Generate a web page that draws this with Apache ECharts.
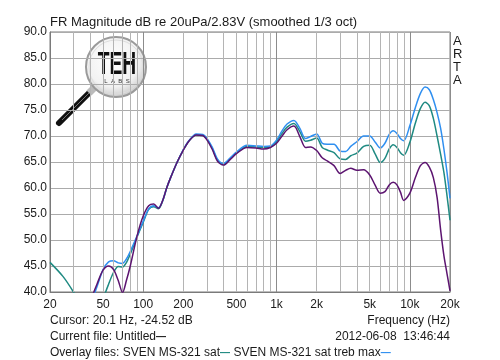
<!DOCTYPE html>
<html>
<head>
<meta charset="utf-8">
<script src="https://cdn.jsdelivr.net/npm/echarts@6/dist/echarts.min.js"></script>
<style>html,body{margin:0;padding:0;background:#fff;}#c{width:500px;height:360px;}</style>
</head>
<body>
<div id="c"></div>
<script>
const freqs = [20,25,30,35,40,45,50,55,60,65,70,75,80,90,100,110,120,130,140,150,160,180,200,220,250,280,300,330,360,400,450,500,600,700,800,900,1000,1100,1200,1350,1500,1650,1800,2000,2200,2400,2700,3000,3300,3600,4000,4500,5000,5500,6000,6500,7000,7500,8000,8500,9000,10000,11000,12000,13000,14000,15000,16000,17000,18000,19000,20000];

const currentFile = [30,31,33,35.5,38.3,41.5,44.2,45.0,44.3,42.2,
  39.9,42.3,45.0,50.8,54.6,56.6,56.9,56.1,57.6,60.0,
  61.9,65.0,67.3,69.0,70.2,70.1,69.3,67.4,65.2,64.4,
  65.5,66.6,67.8,67.7,67.5,67.8,68.6,70.0,71.2,71.9,
  69.8,67.8,67.9,67.2,65.8,65.2,64.3,62.8,63.4,63.8,
  63.4,63.5,62.5,60.5,59.0,59.3,60.6,61.1,60.6,59.2,
  57.6,59.0,62.0,64.3,64.9,64.0,62.0,58.2,52.0,47.0,
  43.5,40.2];

const svenSat = [45.7,43.0,40.0,37.0,34.5,33.5,38.5,41.5,43.8,44.9,
  44.8,45.7,47.3,50.6,53.4,55.9,56.4,56.0,57.5,60.0,
  61.9,65.0,67.3,69.0,70.2,70.1,69.4,67.6,65.4,64.5,
  65.6,66.7,68.0,67.9,67.8,67.9,68.9,70.5,71.7,72.4,
  70.8,69.0,69.2,69.6,67.8,67.3,66.8,65.6,65.5,66.2,
  66.7,68.0,68.2,66.5,64.9,65.7,67.5,68.3,67.8,66.8,
  66.3,68.8,72.5,75.3,76.5,75.8,73.4,70.0,66.5,63.0,
  58.5,53.8];

const svenSatTrebMax = [30,31,33,35,37.5,41.0,44.3,45.8,46.0,45.6,
  45.5,46.4,47.8,50.8,53.6,56.0,56.6,56.2,57.6,60.0,
  61.9,65.0,67.4,69.1,70.4,70.3,69.6,67.8,65.6,64.7,
  65.8,66.9,68.2,68.1,68.0,68.1,69.2,71.0,72.3,73.0,
  71.4,69.5,69.9,70.4,68.6,68.4,68.4,67.1,67.0,68.0,
  68.9,70.0,70.0,68.8,67.7,68.6,70.3,71.0,70.5,69.5,
  69.1,72.0,75.5,78.2,79.4,78.9,77.0,74.5,71.5,67.5,
  63.0,58.0];

const xMinorGrid = [30,40,50,60,70,80,90,200,300,400,500,600,700,800,900,2000,3000,4000,5000,6000,7000,8000,9000];
const xTickLabels = [20,50,100,200,500,1000,2000,5000,10000,20000];
const yMin = 40, yMax = 90, yStep = 5;

const FONT = '"Liberation Sans", Arial, sans-serif';
const TXT = '#1a1a1a';

function pairs(vals){ return freqs.map((f,i)=>[f, vals[i]]); }
const minorLineData = xMinorGrid.map(v => ({xAxis: v}));

const chart = echarts.init(document.getElementById('c'), null, {renderer:'canvas'});
chart.setOption({
  animation:false,
  backgroundColor:'#ffffff',
  grid:{left:50, right:50, top:32, bottom:68, show:true, borderColor:'#7a7a7a', borderWidth:1, backgroundColor:'transparent'},
  xAxis:{
    type:'log', logBase:10, min:20, max:20000,
    axisLine:{show:true, lineStyle:{color:'#7a7a7a', width:1}},
    axisTick:{show:false},
    axisLabel:{customValues:xTickLabels, color:TXT, fontFamily:FONT, fontSize:12, margin:7,
      formatter:v=> v>=1000 ? (v/1000)+'k' : String(v)},
    splitLine:{show:true, lineStyle:{color:'#8c8c8c', width:1}},
    minorSplitLine:{show:false}
  },
  yAxis:{
    type:'value', min:yMin, max:yMax, interval:yStep,
    axisLine:{show:true, lineStyle:{color:'#7a7a7a'}},
    axisTick:{show:false},
    axisLabel:{color:TXT, fontFamily:FONT, fontSize:12, margin:3, formatter:v=>v.toFixed(1)},
    splitLine:{show:true, lineStyle:{color:'#ababab', width:1}}
  },
  series:[
    {name:'grid', type:'line', data:[], silent:true, z:1,
      markLine:{silent:true, symbol:['none','none'], label:{show:false}, animation:false,
        lineStyle:{color:'#b4b4b4', width:1, type:'solid'}, data:minorLineData}},
    {name:'SVEN MS-321 sat', type:'line', data:pairs(svenSat), showSymbol:false, smooth:0.3, clip:true,
      lineStyle:{color:'#1f8a82', width:1.5}, z:3},
    {name:'SVEN MS-321 sat treb max', type:'line', data:pairs(svenSatTrebMax), showSymbol:false, smooth:0.3, clip:true,
      lineStyle:{color:'#2f8ff0', width:1.5}, z:4},
    {name:'Untitled', type:'line', data:pairs(currentFile), showSymbol:false, smooth:0.3, clip:true,
      lineStyle:{color:'#5c1470', width:1.5}, z:5}
  ],
  graphic:[
    {type:'text', left:50, top:16, style:{text:'FR Magnitude dB re 20uPa/2.83V (smoothed 1/3 oct)', font:'13px '+FONT, fill:TXT}},
    {type:'text', left:453, top:35, style:{text:'A\nR\nT\nA', font:'13px '+FONT, fill:TXT, lineHeight:13}},
    {type:'text', left:50, top:315, style:{text:'Cursor: 20.1 Hz, -24.52 dB', font:'12px '+FONT, fill:TXT}},
    {type:'text', right:50, top:315, style:{text:'Frequency (Hz)', font:'12px '+FONT, fill:TXT}},
    {type:'text', left:50, top:331, style:{text:'Current file: Untitled{d|—}', font:'12px '+FONT, fill:TXT,
      rich:{d:{fill:'#222', font:'bold 10px '+FONT}}}},
    {type:'text', right:50, top:331, style:{text:'2012-06-08  13:46:44', font:'12px '+FONT, fill:TXT}},
    {type:'text', left:50, top:347, style:{text:'Overlay files: SVEN MS-321 sat{t|—} SVEN MS-321 sat treb max{b|—}', font:'12px '+FONT, fill:TXT,
      rich:{t:{fill:'#1f8a82', font:'bold 10px '+FONT}, b:{fill:'#2f8ff0', font:'bold 10px '+FONT}}}},
    // logo
    {type:'group', z:50, children:[
      {type:'line', shape:{x1:92, y1:90, x2:59, y2:123}, style:{stroke:'#111', lineWidth:6, lineCap:'round'}},
      {type:'line', shape:{x1:91, y1:91, x2:62, y2:120}, style:{stroke:'#777', lineWidth:1}},
      {type:'line', shape:{x1:95, y1:87, x2:89, y2:93}, style:{stroke:'#bbb', lineWidth:7}},
      {type:'circle', shape:{cx:116, cy:67, r:30}, style:{
        fill:{type:'radial', x:0.45, y:0.4, r:0.6, colorStops:[{offset:0,color:'#ffffff'},{offset:0.7,color:'#f2f2f2'},{offset:1,color:'#c8c8c8'}]},
        stroke:'#9a9a9a', lineWidth:2}},
      {type:'circle', shape:{cx:116, cy:67, r:27}, style:{fill:'none', stroke:'#dddddd', lineWidth:1}},
      {type:'text', x:117, y:65, scaleX:0.62, style:{text:'TEH', font:'bold 31px '+FONT, fill:'#111', align:'center', verticalAlign:'middle'}},
      {type:'text', x:117, y:81, style:{text:'L  A  B  S', font:'6px '+FONT, fill:'#333', align:'center', verticalAlign:'middle'}}
    ]}
  ]
});
</script>
</body>
</html>
